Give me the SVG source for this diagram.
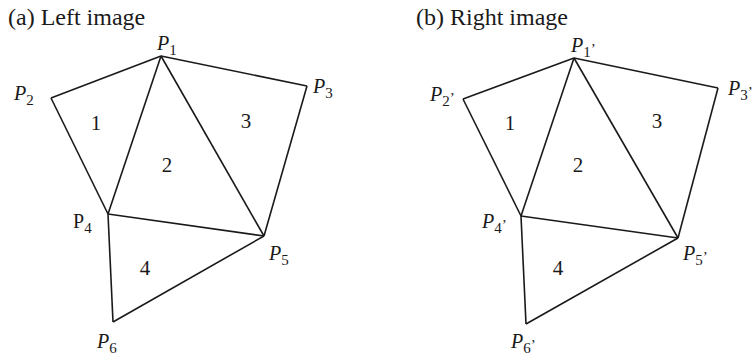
<svg xmlns="http://www.w3.org/2000/svg" width="755" height="358" viewBox="0 0 755 358">
<style>
.t{font-family:"Liberation Serif","Times New Roman",serif;fill:#1a1a1a}
.title{font-size:24px}
.p{font-size:20px;font-style:italic}
.up{font-style:normal}
.s{font-size:15px;font-style:normal}
.n{font-size:21px;text-anchor:middle}
.e{stroke:#1a1a1a;stroke-width:1.6;fill:none;stroke-linejoin:miter}
</style>
<rect width="755" height="358" fill="#ffffff"/>
<g id="titles">
<text class="t title" x="8" y="25">(a) Left image</text>
<text class="t title" x="416" y="25">(b) Right image</text>
</g>
<g id="connectors">
<g id="left-edges">
<line class="e" x1="161" y1="56" x2="51" y2="98"/>
<line class="e" x1="161" y1="56" x2="307" y2="86"/>
<line class="e" x1="51" y1="98" x2="108" y2="214"/>
<line class="e" x1="161" y1="56" x2="108" y2="214"/>
<line class="e" x1="161" y1="56" x2="264" y2="236"/>
<line class="e" x1="307" y1="86" x2="264" y2="236"/>
<line class="e" x1="108" y1="214" x2="264" y2="236"/>
<line class="e" x1="108" y1="214" x2="113" y2="322"/>
<line class="e" x1="264" y1="236" x2="113" y2="322"/>
</g>
<g id="right-edges">
<line class="e" x1="574" y1="58" x2="463" y2="99"/>
<line class="e" x1="574" y1="58" x2="718" y2="88"/>
<line class="e" x1="463" y1="99" x2="521" y2="216"/>
<line class="e" x1="574" y1="58" x2="521" y2="216"/>
<line class="e" x1="574" y1="58" x2="678" y2="238"/>
<line class="e" x1="718" y1="88" x2="678" y2="238"/>
<line class="e" x1="521" y1="216" x2="678" y2="238"/>
<line class="e" x1="521" y1="216" x2="526" y2="324"/>
<line class="e" x1="678" y1="238" x2="526" y2="324"/>
</g>
</g>
<g id="L-P1"><text class="t p" x="157" y="50">P<tspan class="s" dy="5">1</tspan></text></g>
<g id="L-P2"><text class="t p" x="14" y="100">P<tspan class="s" dy="5">2</tspan></text></g>
<g id="L-P3"><text class="t p" x="313" y="93">P<tspan class="s" dy="5">3</tspan></text></g>
<g id="L-P4"><text class="t p up" x="73" y="228">P<tspan class="s" dy="5">4</tspan></text></g>
<g id="L-P5"><text class="t p" x="269" y="260">P<tspan class="s" dy="5">5</tspan></text></g>
<g id="L-P6"><text class="t p" x="97" y="348">P<tspan class="s" dy="5">6</tspan></text></g>
<g id="L-T1"><text class="t n" x="96" y="130">1</text></g>
<g id="L-T2"><text class="t n" x="167" y="172">2</text></g>
<g id="L-T3"><text class="t n" x="246" y="128">3</text></g>
<g id="L-T4"><text class="t n" x="145" y="275">4</text></g>
<g id="R-P1"><text class="t p" x="571" y="52">P<tspan class="s" dy="5">1</tspan><tspan class="s" dy="-3">’</tspan></text></g>
<g id="R-P2"><text class="t p" x="430" y="101">P<tspan class="s" dy="5">2</tspan><tspan class="s" dy="-3">’</tspan></text></g>
<g id="R-P3"><text class="t p" x="728" y="95">P<tspan class="s" dy="5">3</tspan><tspan class="s" dy="-3">’</tspan></text></g>
<g id="R-P4"><text class="t p" x="482" y="228">P<tspan class="s" dy="5">4</tspan><tspan class="s" dy="-3">’</tspan></text></g>
<g id="R-P5"><text class="t p" x="683" y="260">P<tspan class="s" dy="5">5</tspan><tspan class="s" dy="-3">’</tspan></text></g>
<g id="R-P6"><text class="t p" x="511" y="348">P<tspan class="s" dy="5">6</tspan><tspan class="s" dy="-3">’</tspan></text></g>
<g id="R-T1"><text class="t n" x="510" y="130">1</text></g>
<g id="R-T2"><text class="t n" x="578" y="172">2</text></g>
<g id="R-T3"><text class="t n" x="657" y="128">3</text></g>
<g id="R-T4"><text class="t n" x="558" y="275">4</text></g>
</svg>
